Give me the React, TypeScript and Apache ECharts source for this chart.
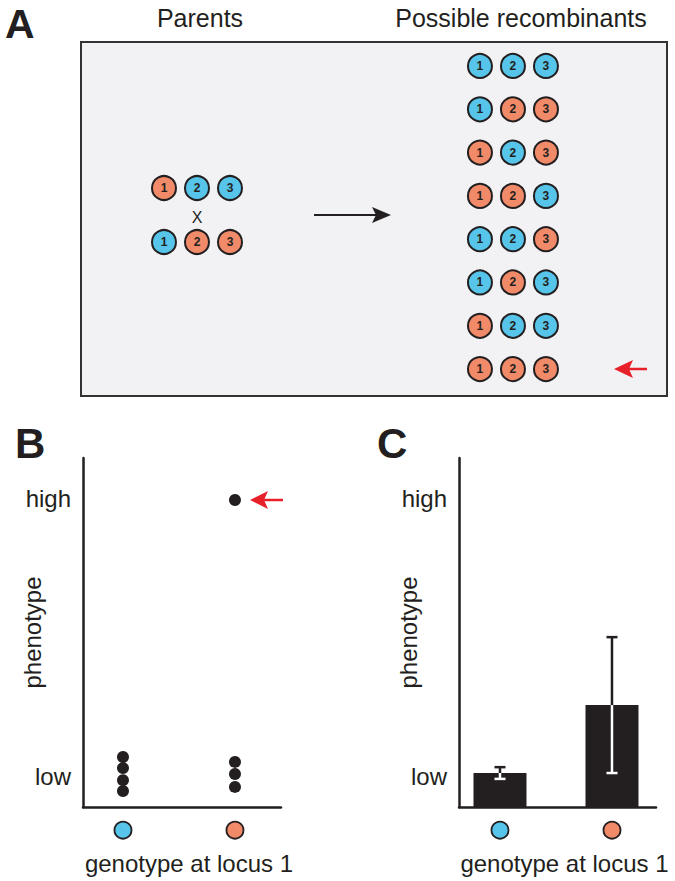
import React, { useEffect, useRef } from "react";
import * as echarts from "echarts";

// ---------- data ----------
const loci = ["1", "2", "3"];
// B = blue parent allele, O = orange parent allele
const parentGenotypes = ["OBB", "BOO"];
const recombinantGenotypes = ["BBB", "BOO", "OBO", "OOB", "BBO", "BOB", "OBB", "OOO"];

const genotypeAtLocus1 = ["B", "O"];
const phenotypeBlue = [1.62, 1.26, 0.87, 0.52];
const phenotypeOrange = [1.46, 1.07, 0.65, 9.94];
const barMeans = [1.1, 3.3];
const barErrors = [0.19, 2.2];
const yTickLabels: Record<number, string> = { 1: "low", 10: "high" };

// ---------- style ----------
const BLUE = "#57c5ea";
const ORANGE = "#f08a68";
const INK = "#231f20";
const FONT = "'Liberation Sans', Arial, Helvetica, sans-serif";
const colorOf = (g: string) => (g === "B" ? BLUE : ORANGE);

export default function App() {
  const ref = useRef<HTMLDivElement>(null);
  useEffect(() => {
    if (!ref.current) return;
    const chart = echarts.init(ref.current, undefined, { renderer: "svg" });

    // panel A layout (axis units: one circle spacing)
    const REC_X0 = 12.09;
    const PAR_X0 = 2.515;
    const ROW_Y0 = 0.554;
    const PAR_Y = [3.372, 4.619];

    const recData = recombinantGenotypes.flatMap((gt, r) =>
      gt.split("").map((g, j) => ({
        name: loci[j],
        value: [REC_X0 + j, r + ROW_Y0],
        itemStyle: { color: colorOf(g) },
      }))
    );
    const parData = parentGenotypes.flatMap((gt, p) =>
      gt.split("").map((g, j) => ({
        name: loci[j],
        value: [PAR_X0 + j, PAR_Y[p]],
        itemStyle: { color: colorOf(g) },
      }))
    );

    const circleSeries = (data: any[]) => ({
      type: "scatter",
      xAxisIndex: 0,
      yAxisIndex: 0,
      symbol: "circle",
      symbolSize: 24,
      data,
      itemStyle: { borderColor: INK, borderWidth: 2, opacity: 1 },
      label: {
        show: true,
        position: "inside",
        formatter: "{b}",
        fontSize: 12,
        fontWeight: "bold",
        color: INK,
        fontFamily: FONT,
      },
    });

    const yAxisPlot = (gridIndex: number) => ({
      type: "value",
      gridIndex,
      min: 0,
      max: 11.3,
      interval: 1,
      name: "phenotype",
      nameLocation: "middle",
      nameRotate: 90,
      nameGap: 39,
      nameMoveOverlap: false,
      nameTextStyle: { fontSize: 24, color: INK, fontFamily: FONT },
      axisLine: { show: true, onZero: false, lineStyle: { color: INK, width: 2.5 } },
      axisTick: { show: false },
      splitLine: { show: false },
      axisLabel: {
        margin: 12,
        fontSize: 24,
        color: INK,
        fontFamily: FONT,
        showMaxLabel: false,
        formatter: (v: number) => yTickLabels[Math.round(v * 1000) / 1000] || "",
      },
    });
    const xAxisPlot = (gridIndex: number, min: number, max: number) => ({
      type: "value",
      gridIndex,
      min,
      max,
      name: "genotype at locus 1",
      nameLocation: "middle",
      nameGap: 44,
      nameMoveOverlap: false,
      nameTextStyle: { fontSize: 24, color: INK, fontFamily: FONT, padding: [0, 0, 0, 14] },
      axisLine: { show: true, onZero: false, lineStyle: { color: INK, width: 2.5 } },
      axisTick: { show: false },
      splitLine: { show: false },
      axisLabel: { show: false },
    });

    const markerSeries = (xi: number) => ({
      type: "scatter",
      xAxisIndex: xi,
      yAxisIndex: xi,
      clip: false,
      symbolSize: 17,
      data: genotypeAtLocus1.map((g, i) => ({
        value: [i + 1, -0.75],
        itemStyle: { color: colorOf(g) },
      })),
      itemStyle: { borderColor: INK, borderWidth: 1.8, opacity: 1 },
    });

    const dotSeries = (vals: number[], xPos: number) => ({
      type: "scatter",
      xAxisIndex: 1,
      yAxisIndex: 1,
      symbolSize: 12,
      data: vals.map((v) => [xPos, v]),
      itemStyle: { color: INK, opacity: 1 },
    });

    const arrowHead = (tipX: number, y: number, dir: number, len: number, half: number, notch: number, color: string) => ({
      type: "polygon",
      shape: {
        points: [
          [tipX, y],
          [tipX + dir * len, y - half],
          [tipX + dir * (len - notch), y],
          [tipX + dir * len, y + half],
        ],
      },
      style: { fill: color },
    });

    const option: any = {
      animation: false,
      backgroundColor: "#ffffff",
      grid: [
        { left: 81, top: 42, width: 586, height: 354, show: true, backgroundColor: "#f2f2f4", borderColor: "#333333", borderWidth: 2 },
        { left: 83, top: 458, width: 198, height: 349 },
        { left: 459, top: 458, width: 197, height: 349 },
      ],
      xAxis: [
        { type: "value", gridIndex: 0, min: 0, max: 17.758, show: false },
        xAxisPlot(1, 0.643, 2.411),
        xAxisPlot(2, 0.634, 2.393),
      ],
      yAxis: [
        { type: "value", gridIndex: 0, min: 0, max: 8.176, inverse: true, show: false },
        yAxisPlot(1),
        yAxisPlot(2),
      ],
      series: [
        circleSeries(recData),
        circleSeries(parData),
        dotSeries(phenotypeBlue, 1),
        dotSeries(phenotypeOrange, 2),
        markerSeries(1),
        markerSeries(2),
        {
          type: "bar",
          xAxisIndex: 2,
          yAxisIndex: 2,
          barWidth: 53,
          data: barMeans.map((m, i) => [i + 1, m]),
          itemStyle: { color: INK },
        },
        {
          type: "custom",
          xAxisIndex: 2,
          yAxisIndex: 2,
          z: 5,
          data: barMeans.map((m, i) => [i + 1, m, barErrors[i]]),
          renderItem: (params: any, api: any) => {
            const x = api.value(0);
            const m = api.value(1);
            const e = api.value(2);
            const top = api.coord([x, m + e]);
            const mid = api.coord([x, m]);
            const bot = api.coord([x, m - e]);
            const hw = 5.5;
            const lw = 2.5;
            return {
              type: "group",
              children: [
                { type: "line", shape: { x1: mid[0], y1: mid[1], x2: top[0], y2: top[1] }, style: { stroke: INK, lineWidth: lw } },
                { type: "line", shape: { x1: top[0] - hw, y1: top[1], x2: top[0] + hw, y2: top[1] }, style: { stroke: INK, lineWidth: lw } },
                { type: "line", shape: { x1: mid[0], y1: mid[1], x2: bot[0], y2: bot[1] }, style: { stroke: "#ffffff", lineWidth: lw } },
                { type: "line", shape: { x1: bot[0] - hw, y1: bot[1], x2: bot[0] + hw, y2: bot[1] }, style: { stroke: "#ffffff", lineWidth: lw } },
              ],
            };
          },
        },
      ],
      graphic: [
        { type: "text", x: 5, y: 24, style: { text: "A", fontSize: 41, fontWeight: "bold", fill: INK, fontFamily: FONT, verticalAlign: "middle" } },
        { type: "text", x: 15, y: 443, style: { text: "B", fontSize: 42, fontWeight: "bold", fill: INK, fontFamily: FONT, verticalAlign: "middle" } },
        { type: "text", x: 377, y: 443, style: { text: "C", fontSize: 42, fontWeight: "bold", fill: INK, fontFamily: FONT, verticalAlign: "middle" } },
        { type: "text", x: 200, y: 18, style: { text: "Parents", fontSize: 25, fill: INK, fontFamily: FONT, align: "center", verticalAlign: "middle" } },
        { type: "text", x: 521, y: 18, style: { text: "Possible recombinants", fontSize: 25, fill: INK, fontFamily: FONT, align: "center", verticalAlign: "middle" } },
        { type: "text", x: 197, y: 217, z: 10, style: { text: "X", fontSize: 16, fill: INK, fontFamily: FONT, align: "center", verticalAlign: "middle" } },
        { type: "line", z: 10, shape: { x1: 314, y1: 215, x2: 380, y2: 215 }, style: { stroke: INK, lineWidth: 2 } },
        { ...arrowHead(391, 215, -1, 19, 8, 4, INK), z: 10 },
        { type: "line", z: 10, shape: { x1: 628, y1: 369, x2: 647, y2: 369 }, style: { stroke: "#e8202a", lineWidth: 2.5 } },
        { ...arrowHead(614, 369, 1, 19, 9, 4, "#e8202a"), z: 10 },
        { type: "line", z: 10, shape: { x1: 262, y1: 500, x2: 283, y2: 500 }, style: { stroke: "#e8202a", lineWidth: 2.5 } },
        { ...arrowHead(250, 500, 1, 18, 9, 4, "#e8202a"), z: 10 },
      ],
    };
    chart.setOption(option);
    return () => chart.dispose();
  }, []);
  return (
    <div
      ref={ref}
      style={{ position: "absolute", left: 0, top: 0, width: 675, height: 881 }}
    />
  );
}
